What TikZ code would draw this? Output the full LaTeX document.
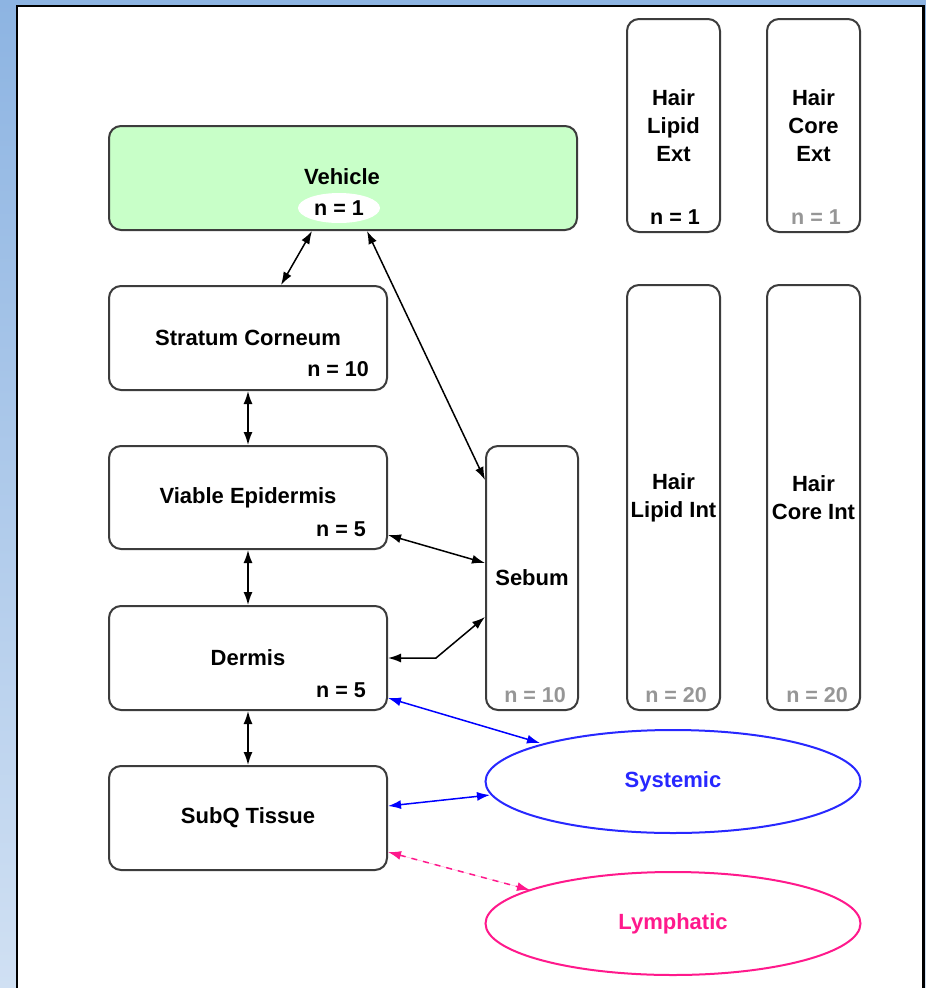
\documentclass[tikz,border=0pt]{standalone}
\usepackage{fontspec}
\setmainfont{Liberation Sans}
\usetikzlibrary{arrows.meta,shapes.geometric,calc}
\definecolor{bgtop}{RGB}{141,180,226}
\definecolor{bgbot}{RGB}{208,224,243}
\definecolor{boxline}{RGB}{60,60,60}
\definecolor{vehgreen}{RGB}{200,255,200}
\definecolor{ngray}{RGB}{150,150,150}
\definecolor{sysblue}{RGB}{40,40,255}
\definecolor{lympink}{RGB}{255,25,140}
\tikzset{
  txt/.style={font=\fontsize{22}{28}\selectfont\bfseries, align=center},
  comp/.style={draw=boxline, line width=2pt, rounded corners=12pt, fill=white,
    rectangle, inner sep=0pt, txt},
  ellcomp/.style={ellipse, line width=2pt, fill=white, inner sep=0pt, txt},
  nlab/.style={inner sep=0pt, font=\fontsize{21.5}{26}\selectfont\bfseries},
  link/.style={line width=1.5pt, {Latex[length=13pt,width=9pt]}-{Latex[length=13pt,width=9pt]}},
}
\begin{document}
\begin{tikzpicture}[x=1pt,y=-1pt]
\useasboundingbox (0,0) rectangle (926,988);
\shade[top color=bgtop, bottom color=bgbot] (0,0) rectangle (926,988);
\filldraw[fill=white, draw=black, line width=2.2pt] (17,6) rectangle (923.5,1010);

% main column
\node[comp, fill=vehgreen, minimum width=468pt, minimum height=104pt] (veh) at (343,178) {};
\node[txt] (vehlab) at (342,177) {Vehicle};
\node[ellipse, fill=white, minimum width=82pt, minimum height=30pt, inner sep=0pt] (vehn) at (339,208) {};
\node[nlab] (vehnt) at (vehn.center) {n = 1};
\node[comp, minimum width=278pt, minimum height=104pt] (sc) at (248,338) {Stratum Corneum};
\node[nlab, anchor=east] (scn) at (369,369) {n = 10};
\node[comp, minimum width=278pt, minimum height=103pt] (ve) at (248,497.5) {Viable Epidermis};
\node[nlab, anchor=east] (ven) at (366,529) {n = 5};
\node[comp, minimum width=278pt, minimum height=104pt] (der) at (248,658) {Dermis};
\node[nlab, anchor=east] (dern) at (366,690) {n = 5};
\node[comp, minimum width=278pt, minimum height=104pt] (subq) at (248,818) {SubQ Tissue};

% sebum
\node[comp, minimum width=92pt, minimum height=264pt] (seb) at (532,578) {Sebum};
\node[nlab, anchor=east, text=ngray] (sebn) at (566,695) {n = 10};

% hair compartments
\node[comp, minimum width=93pt, minimum height=213pt] (hle) at (673.5,125.5) {Hair\\Lipid\\Ext};
\node[nlab, anchor=east] (hlen) at (700,217) {n = 1};
\node[comp, minimum width=93pt, minimum height=213pt] (hce) at (813.5,125.5) {Hair\\Core\\Ext};
\node[nlab, anchor=east, text=ngray] (hcen) at (841,217) {n = 1};
\node[comp, minimum width=93pt, minimum height=425pt] (hli) at (673.5,497.5) {Hair\\Lipid Int};
\node[nlab, anchor=east, text=ngray] (hlin) at (707,695) {n = 20};
\node[comp, minimum width=93pt, minimum height=425pt] (hci) at (813.5,497.5) {Hair\\Core Int};
\node[nlab, anchor=east, text=ngray] (hcin) at (848,695) {n = 20};

% ellipses
\node[ellcomp, draw=sysblue, text=sysblue, minimum width=375pt, minimum height=103pt] (sys) at (673,781.5) {Systemic};
\node[ellcomp, draw=lympink, text=lympink, minimum width=375pt, minimum height=103pt] (lym) at (673,923.5) {Lymphatic};

% connectors
\draw[link] ($(veh.south)+(-31,0)$) -- ($(sc.north)+(33,0)$);
\draw[link] ($(veh.south)+(24,0)$) -- ($(seb.west)+(0,-98)$);
\draw[link] (sc.south) -- (ve.north);
\draw[link] (ve.south) -- (der.north);
\draw[link] (der.south) -- (subq.north);
\draw[link] ($(ve.east)+(0,37.5)$) -- ($(seb.west)+(0,-15)$);
\draw[link] (der.east) -- ++(48,0) -- ($(seb.west)+(0,39)$);
\draw[link, draw=blue, fill=blue] ($(der.east)+(0,40)$) -- ($(sys.center)+(-133,-38.5)$);
\draw[link, draw=blue, fill=blue] ($(subq.east)+(0,-12)$) -- ($(sys.center)+(-183,13.5)$);
\draw[link, draw=lympink, fill=lympink, dash pattern=on 6pt off 6pt] ($(subq.east)+(0,34)$) -- ($(lym.center)+(-143,-33.5)$);
\end{tikzpicture}
\end{document}
